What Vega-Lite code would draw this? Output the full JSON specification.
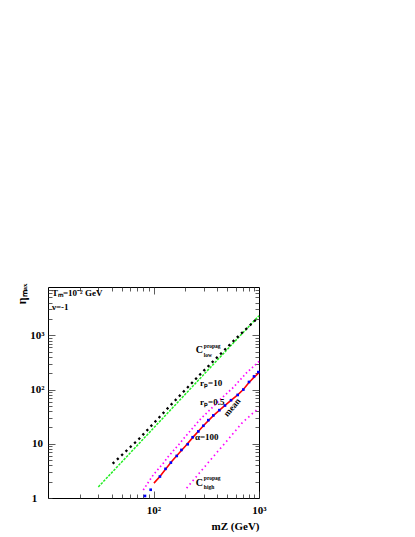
{
  "$schema": "https://vega.github.io/schema/vega-lite/v6.json",
  "width": 211,
  "height": 211,
  "autosize": "none",
  "padding": {"left": 48, "top": 287, "right": 156, "bottom": 39},
  "background": "white",
  "config": {
    "view": {"stroke": "black", "strokeWidth": 1},
    "font": "Liberation Serif",
    "axis": {
      "domain": false,
      "grid": false,
      "tickColor": "#333333",
      "tickWidth": 0.8,
      "labelFont": "Liberation Serif",
      "labelFontWeight": "bold",
      "labelFontSize": 11,
      "labelColor": "black",
      "titleFont": "Liberation Serif",
      "titleFontWeight": "bold",
      "titleColor": "black"
    },
    "text": {"font": "Liberation Serif", "fontWeight": "bold", "color": "black"}
  },
  "datasets": {
    "green": [
      {"x": 30, "y": 1.6}, {"x": 200, "y": 82}, {"x": 1000, "y": 2310}
    ],
    "black": [
      {"x": 41, "y": 4.3}, {"x": 72, "y": 12}, {"x": 150, "y": 55}, {"x": 276, "y": 190}, {"x": 614, "y": 900}, {"x": 950, "y": 2000}
    ],
    "magup": [
      {"x": 80, "y": 1.4}, {"x": 90, "y": 2.0}, {"x": 100, "y": 2.7}, {"x": 124, "y": 4.4}, {"x": 138, "y": 5.8}, {"x": 176, "y": 10}, {"x": 200, "y": 13.5}, {"x": 276, "y": 28}, {"x": 350, "y": 44}, {"x": 450, "y": 72}, {"x": 572, "y": 110}, {"x": 764, "y": 205}, {"x": 1000, "y": 331}
    ],
    "maglow": [
      {"x": 206, "y": 1.52}, {"x": 260, "y": 2.6}, {"x": 369, "y": 5.8}, {"x": 500, "y": 11.5}, {"x": 685, "y": 23.8}, {"x": 850, "y": 35}, {"x": 1000, "y": 46}
    ],
    "red": [
      {"x": 101, "y": 1.88}, {"x": 115, "y": 2.5}, {"x": 130, "y": 3.4}, {"x": 150, "y": 4.8}, {"x": 166, "y": 6}, {"x": 200, "y": 9}, {"x": 235, "y": 13}, {"x": 297, "y": 21.5}, {"x": 369, "y": 33}, {"x": 476, "y": 51}, {"x": 628, "y": 80}, {"x": 710, "y": 100}, {"x": 804, "y": 135}, {"x": 900, "y": 170}, {"x": 1000, "y": 205}
    ],
    "blue": [
      {"x": 83, "y": 1.09}, {"x": 94, "y": 1.42}, {"x": 115, "y": 2.49}, {"x": 130, "y": 3.45}, {"x": 146, "y": 4.5}, {"x": 166, "y": 5.97}, {"x": 184, "y": 7.7}, {"x": 211, "y": 9.8}, {"x": 235, "y": 13.2}, {"x": 266, "y": 16.9}, {"x": 297, "y": 21.5}, {"x": 331, "y": 27.3}, {"x": 369, "y": 33.3}, {"x": 421, "y": 41.7}, {"x": 476, "y": 50.8}, {"x": 543, "y": 63.6}, {"x": 628, "y": 79.6}, {"x": 710, "y": 100}, {"x": 804, "y": 138}, {"x": 897, "y": 175}, {"x": 985, "y": 210}
    ],
    "labels": [
      {"label": "Tₘ=10⁻² GeV", "x": 10.9, "y": 6060},
      {"label": "ν=-1", "x": 10.9, "y": 3340},
      {"label": "rₚ=10", "x": 276, "y": 131},
      {"label": "rₚ=0.5", "x": 276, "y": 60},
      {"label": "α=100", "x": 247, "y": 13.2}
    ],
    "bigc": [
      {"label": "C", "x": 251, "y": 527},
      {"label": "C", "x": 251, "y": 1.92}
    ],
    "small": [
      {"label": "propag", "x": 300, "y": 625},
      {"label": "low", "x": 300, "y": 430},
      {"label": "propag", "x": 300, "y": 2.3},
      {"label": "high", "x": 300, "y": 1.58}
    ],
    "mean": [
      {"label": "mean", "x": 555, "y": 47}
    ]
  },
  "layer": [
    {
      "data": {"name": "green"},
      "mark": {"type": "line", "color": "#22ee22", "strokeWidth": 1.5, "strokeDash": [2.5, 1.2]},
      "encoding": {
        "x": {
          "field": "x", "type": "quantitative",
          "scale": {"type": "log", "domain": [10, 1000], "nice": false},
          "axis": {
            "orient": "bottom",
            "values": [20, 30, 40, 50, 60, 70, 80, 90, 100, 200, 300, 400, 500, 600, 700, 800, 900, 1000],
            "labelExpr": "datum.value == 100 ? '10²' : datum.value == 1000 ? '10³' : ''",
            "tickSize": {"condition": {"test": "datum.value == 100 || datum.value == 1000", "value": -7}, "value": -4},
            "labelPadding": 13,
            "labelFlush": false,
            "labelOverlap": false,
            "title": "mZ (GeV)",
            "titleFontSize": 11,
            "titleX": 211,
            "titleY": 28,
            "titleAlign": "right",
            "titleBaseline": "middle"
          }
        },
        "y": {
          "field": "y", "type": "quantitative",
          "scale": {"type": "log", "domain": [1, 7800], "nice": false},
          "axis": {
            "orient": "left",
            "values": [1, 2, 3, 4, 5, 6, 7, 8, 9, 10, 20, 30, 40, 50, 60, 70, 80, 90, 100, 200, 300, 400, 500, 600, 700, 800, 900, 1000, 2000, 3000, 4000, 5000, 6000, 7000],
            "labelExpr": "datum.value == 1 ? '1' : datum.value == 10 ? '10' : datum.value == 100 ? '10²' : datum.value == 1000 ? '10³' : ''",
            "tickSize": {"condition": {"test": "datum.value == 10 || datum.value == 100 || datum.value == 1000", "value": -7}, "value": -4},
            "labelPadding": 18,
            "labelAlign": "center",
            "labelBaseline": "middle",
            "labelFlush": false,
            "labelOverlap": false,
            "title": "ηₘₐₓ",
            "titleFontSize": 12,
            "titleAngle": 270,
            "titleX": -27,
            "titleY": -4,
            "titleAlign": "right",
            "titleBaseline": "middle"
          }
        }
      }
    },
    {
      "data": {"name": "black"},
      "mark": {"type": "line", "color": "black", "strokeWidth": 2.3, "strokeDash": [2.3, 3.6]},
      "encoding": {
        "x": {
          "field": "x", "type": "quantitative",
          "scale": {"type": "log", "domain": [10, 1000], "nice": false},
          "axis": {
            "orient": "top",
            "values": [20, 30, 40, 50, 60, 70, 80, 90, 100, 200, 300, 400, 500, 600, 700, 800, 900],
            "labels": false,
            "title": null,
            "tickSize": {"condition": {"test": "datum.value == 100", "value": -7}, "value": -4}
          }
        },
        "y": {
          "field": "y", "type": "quantitative",
          "scale": {"type": "log", "domain": [1, 7800], "nice": false},
          "axis": {
            "orient": "right",
            "values": [2, 3, 4, 5, 6, 7, 8, 9, 10, 20, 30, 40, 50, 60, 70, 80, 90, 100, 200, 300, 400, 500, 600, 700, 800, 900, 1000, 2000, 3000, 4000, 5000, 6000, 7000],
            "labels": false,
            "title": null,
            "tickSize": {"condition": {"test": "datum.value == 10 || datum.value == 100 || datum.value == 1000", "value": -7}, "value": -4}
          }
        }
      }
    },
    {
      "data": {"name": "magup"},
      "mark": {"type": "line", "color": "#ff00ff", "strokeWidth": 1.7, "strokeDash": [1.5, 2.6]},
      "encoding": {
        "x": {"field": "x", "type": "quantitative", "axis": null},
        "y": {"field": "y", "type": "quantitative", "axis": null}
      }
    },
    {
      "data": {"name": "maglow"},
      "mark": {"type": "line", "color": "#ff00ff", "strokeWidth": 1.7, "strokeDash": [1.5, 3.2]},
      "encoding": {
        "x": {"field": "x", "type": "quantitative", "axis": null},
        "y": {"field": "y", "type": "quantitative", "axis": null}
      }
    },
    {
      "data": {"name": "red"},
      "mark": {"type": "line", "color": "#ff0000", "strokeWidth": 1.6},
      "encoding": {
        "x": {"field": "x", "type": "quantitative", "axis": null},
        "y": {"field": "y", "type": "quantitative", "axis": null}
      }
    },
    {
      "data": {"name": "blue"},
      "mark": {"type": "square", "color": "#0000ff", "filled": true, "size": 7, "opacity": 1},
      "encoding": {
        "x": {"field": "x", "type": "quantitative", "axis": null},
        "y": {"field": "y", "type": "quantitative", "axis": null}
      }
    },
    {
      "data": {"name": "labels"},
      "mark": {"type": "text", "fontSize": 9, "align": "left", "baseline": "middle"},
      "encoding": {
        "x": {"field": "x", "type": "quantitative", "axis": null},
        "y": {"field": "y", "type": "quantitative", "axis": null},
        "text": {"field": "label"}
      }
    },
    {
      "data": {"name": "bigc"},
      "mark": {"type": "text", "fontSize": 10, "align": "left", "baseline": "middle"},
      "encoding": {
        "x": {"field": "x", "type": "quantitative", "axis": null},
        "y": {"field": "y", "type": "quantitative", "axis": null},
        "text": {"field": "label"}
      }
    },
    {
      "data": {"name": "small"},
      "mark": {"type": "text", "fontSize": 5.5, "align": "left", "baseline": "middle"},
      "encoding": {
        "x": {"field": "x", "type": "quantitative", "axis": null},
        "y": {"field": "y", "type": "quantitative", "axis": null},
        "text": {"field": "label"}
      }
    },
    {
      "data": {"name": "mean"},
      "mark": {"type": "text", "fontSize": 9, "align": "center", "baseline": "middle", "angle": 310},
      "encoding": {
        "x": {"field": "x", "type": "quantitative", "axis": null},
        "y": {"field": "y", "type": "quantitative", "axis": null},
        "text": {"field": "label"}
      }
    }
  ],
  "resolve": {"axis": {"x": "independent", "y": "independent"}}
}
